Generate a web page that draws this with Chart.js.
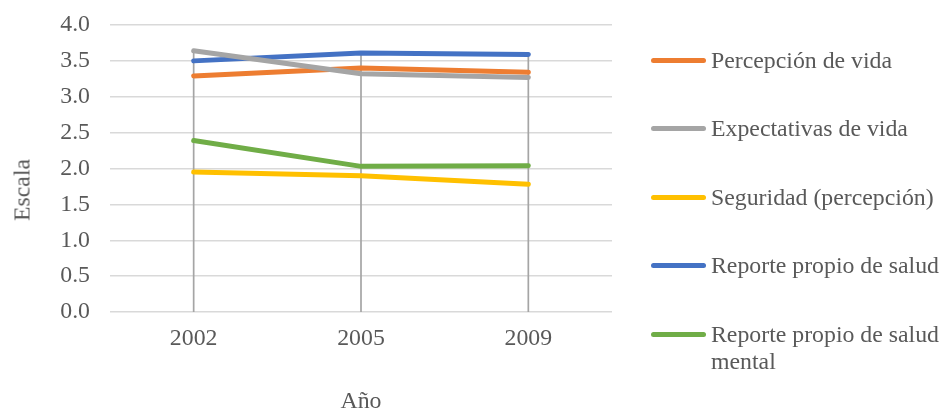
<!DOCTYPE html>
<html>
<head>
<meta charset="utf-8">
<script src="https://cdn.jsdelivr.net/npm/chart.js@4/dist/chart.umd.min.js"></script>
<style>
  html, body { margin: 0; padding: 0; background: #fff; overflow: hidden; }
  #wrap { position: relative; width: 942px; height: 411px; }
  #myChart { position: absolute; left: 0; top: 0; }
  .ytitle {
    position: absolute; left: 22px; top: 190px;
    transform: translate(-50%, -50%) rotate(-90deg);
    font: 23.8px "Liberation Serif", "Times New Roman", serif; color: #595959;
    white-space: nowrap;
  }
  .legend-item {
    position: absolute; left: 651px; width: 291px;
    font: 23.8px/27px "Liberation Serif", "Times New Roman", serif; color: #595959;
  }
  .legend-item .swatch {
    position: absolute; left: 0; top: 11px; width: 55px; height: 5px; border-radius: 3px;
  }
  .legend-item .txt { margin-left: 60px; width: 235px; }
</style>
</head>
<body>
<div id="wrap">
  <canvas id="myChart" width="942" height="411"></canvas>
  <div class="ytitle">Escala</div>
</div>
<script>
var
	years = ["2002", "2005", "2009"],
	seriesNames = [
		"Percepción de vida",
		"Expectativas de vida",
		"Seguridad (percepción)",
		"Reporte propio de salud",
		"Reporte propio de salud mental"
	],
	percepcionVida = [3.29, 3.40, 3.34],
	expectativasVida = [3.64, 3.32, 3.27],
	seguridad = [1.95, 1.90, 1.78],
	saludPropia = [3.50, 3.61, 3.59],
	saludMental = [2.39, 2.03, 2.04],
	orange = "#ed7d31",
	grey = "#a5a5a5",
	yellow = "#ffc000",
	blue = "#4472c4",
	green = "#70ad47",
	textGrey = "#595959",
	gridGrey = "#d9d9d9";

var seriesValues = [percepcionVida, expectativasVida, seguridad, saludPropia, saludMental];
var seriesColors = [orange, grey, yellow, blue, green];
// drawing order (lower = on top); the grey line sits over the others
var drawOrder = [3, 1, 5, 2, 4];

// Excel style drop lines: from the highest point of each year down to the axis
var dropLines = {
	id: "dropLines",
	beforeDatasetsDraw: function(chart) {
		var x = chart.scales.x, y = chart.scales.y, ctx = chart.ctx;
		ctx.save();
		ctx.strokeStyle = grey;
		ctx.lineWidth = 1.7;
		years.forEach(function(yr, i) {
			var top = Math.max.apply(null, seriesValues.map(function(s) { return s[i]; }));
			var px = x.getPixelForValue(i);
			ctx.beginPath();
			ctx.moveTo(px, y.getPixelForValue(top));
			ctx.lineTo(px, y.getPixelForValue(0));
			ctx.stroke();
		});
		ctx.restore();
	}
};

var serif = "'Liberation Serif', 'Times New Roman', serif";

new Chart(document.getElementById("myChart").getContext("2d"), {
	type: "line",
	data: {
		labels: years,
		datasets: seriesNames.map(function(name, i) {
			return {
				label: name,
				data: seriesValues[i],
				borderColor: seriesColors[i],
				backgroundColor: seriesColors[i],
				borderWidth: 5,
				borderCapStyle: "round",
				borderJoinStyle: "round",
				pointRadius: 0,
				tension: 0,
				order: drawOrder[i]
			};
		})
	},
	options: {
		responsive: false,
		animation: false,
		layout: { padding: { top: 25, right: 330, left: 0, bottom: 0 } },
		plugins: {
			legend: { display: false },
			tooltip: { enabled: false }
		},
		scales: {
			x: {
				offset: true,
				grid: { display: false, drawTicks: false },
				border: { display: false },
				ticks: {
					color: textGrey,
					padding: 15,
					font: { family: serif, size: 23.8, lineHeight: 1 }
				},
				title: {
					display: true,
					text: "Año",
					color: textGrey,
					padding: 0,
					font: { family: serif, size: 23.8, lineHeight: 0.8 }
				},
				afterFit: function(scale) { scale.height = 99; }
			},
			y: {
				min: 0,
				max: 4,
				grid: { color: gridGrey, lineWidth: 1.5, drawTicks: false },
				border: { display: false },
				ticks: {
					stepSize: 0.5,
					color: textGrey,
					padding: 20,
					font: { family: serif, size: 23.8 },
					callback: function(v) { return v.toFixed(1); }
				},
				afterFit: function(scale) {
					scale.width = 110;
					scale.paddingTop = 0;
					scale.paddingBottom = 0;
				}
			}
		}
	},
	plugins: [dropLines]
});

// legend on the right, built from the same arrays
var wrap = document.getElementById("wrap");
seriesNames.forEach(function(name, i) {
	var item = document.createElement("div");
	item.className = "legend-item";
	item.style.top = (46.5 + i * 68.5) + "px";
	var sw = document.createElement("div");
	sw.className = "swatch";
	sw.style.background = seriesColors[i];
	var txt = document.createElement("div");
	txt.className = "txt";
	txt.textContent = name;
	item.appendChild(sw);
	item.appendChild(txt);
	wrap.appendChild(item);
});
</script>
</body>
</html>
